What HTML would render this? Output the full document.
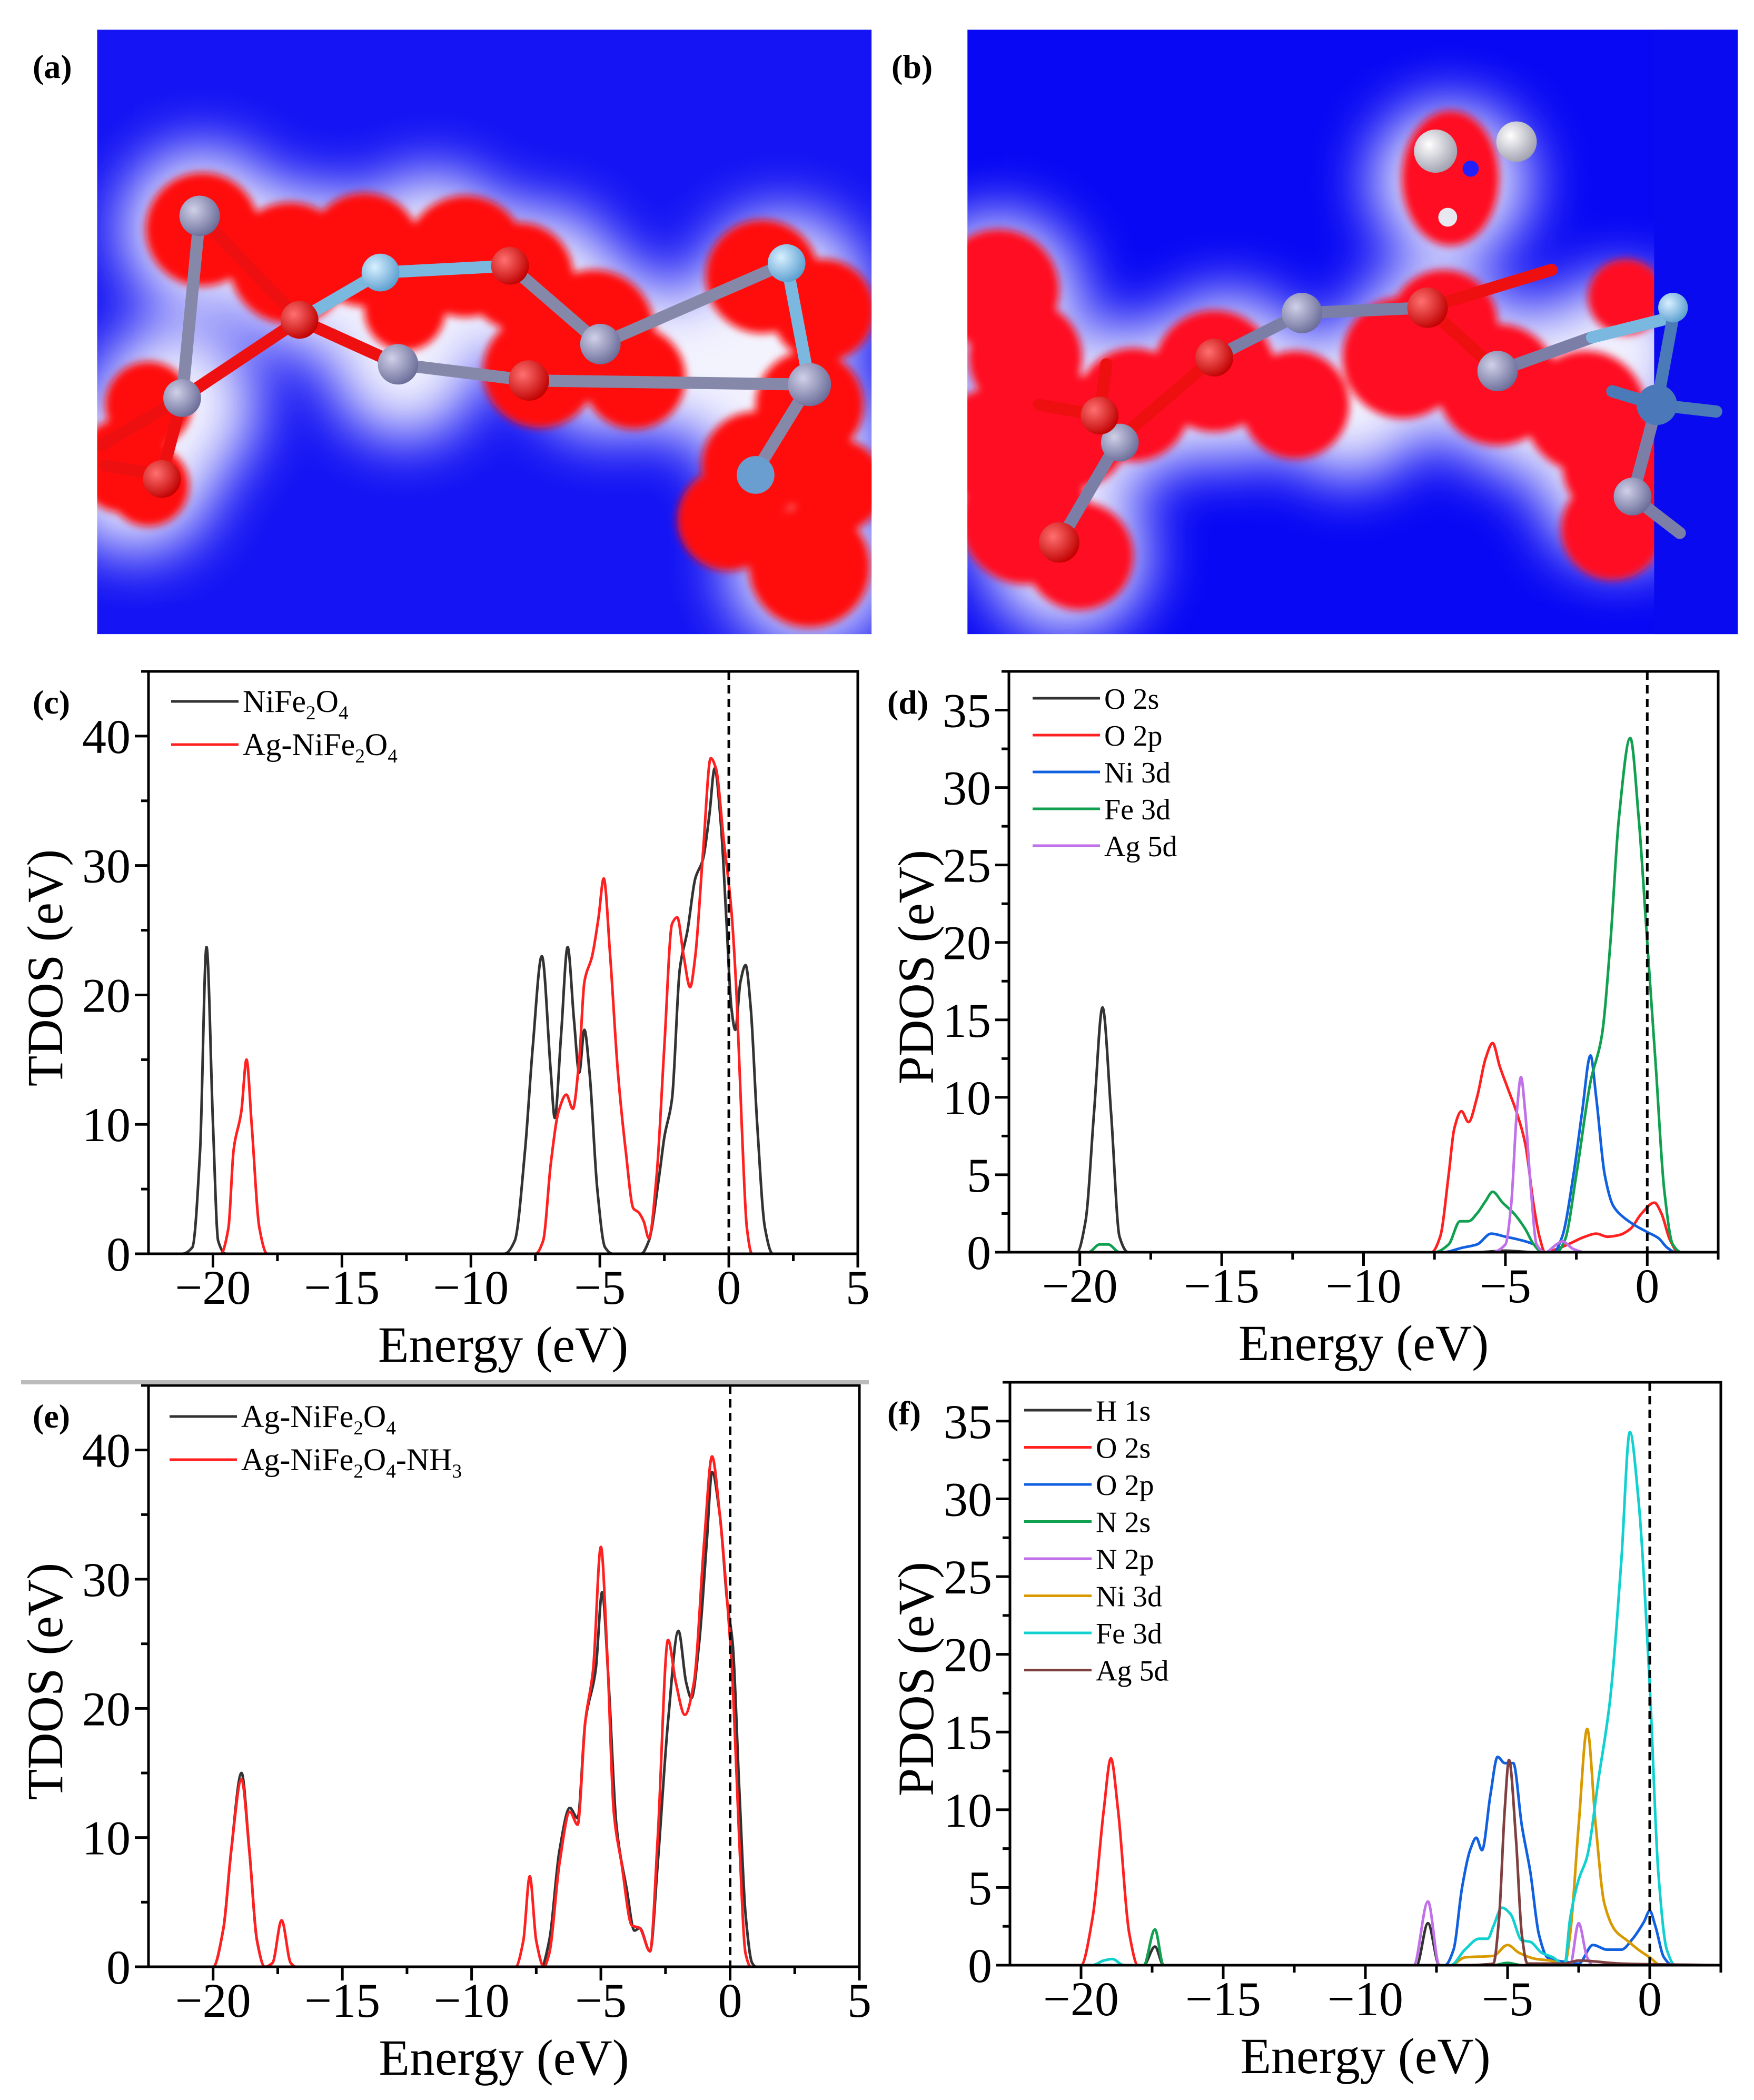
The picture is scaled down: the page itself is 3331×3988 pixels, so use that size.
<!DOCTYPE html>
<html><head><meta charset="utf-8"><style>
html,body{margin:0;padding:0;background:#fff}
#root{position:relative;width:3331px;height:3988px;overflow:hidden}
svg{position:absolute;left:0;top:0}
</style></head><body>
<div id="root">
<svg id="img" width="3331" height="3988" viewBox="0 0 1300 1556.4" preserveAspectRatio="none">
<defs>
<filter id="halo" x="-50%" y="-50%" width="200%" height="200%"><feGaussianBlur stdDeviation="22"/></filter>
<filter id="soft" x="-50%" y="-50%" width="200%" height="200%"><feGaussianBlur stdDeviation="3"/></filter>
<clipPath id="ca"><rect x="72" y="22" width="574" height="448"/></clipPath>
<clipPath id="cb"><rect x="717" y="22" width="571" height="448"/></clipPath>
<radialGradient id="gg" cx="35%" cy="35%" r="70%"><stop offset="0" stop-color="#d0d0e8"/><stop offset="1" stop-color="#6a6c98"/></radialGradient>
<radialGradient id="gr" cx="35%" cy="35%" r="70%"><stop offset="0" stop-color="#ff7070"/><stop offset="1" stop-color="#c00000"/></radialGradient>
<radialGradient id="gl" cx="35%" cy="35%" r="70%"><stop offset="0" stop-color="#d8f0ff"/><stop offset="1" stop-color="#5a9ed0"/></radialGradient>
<radialGradient id="gw" cx="35%" cy="35%" r="70%"><stop offset="0" stop-color="#ffffff"/><stop offset="1" stop-color="#a0a0b0"/></radialGradient>
</defs>
<g id="panel-a" clip-path="url(#ca)">
<rect x="72" y="22" width="574" height="448" fill="#1414f4"/>
<g fill="#ffffff" filter="url(#halo)" opacity="0.95">
<circle cx="150" cy="170" r="60"/><circle cx="230" cy="200" r="60"/><circle cx="320" cy="190" r="62"/><circle cx="400" cy="215" r="60"/><circle cx="450" cy="260" r="62"/><circle cx="300" cy="270" r="55"/><circle cx="130" cy="300" r="60"/><circle cx="100" cy="350" r="60"/><circle cx="580" cy="220" r="62"/><circle cx="590" cy="330" r="62"/><circle cx="600" cy="420" r="60"/><circle cx="520" cy="270" r="55"/>
</g>
<g fill="#ff1010" filter="url(#soft)">
<circle cx="150" cy="170" r="42"/><circle cx="215" cy="195" r="45"/><circle cx="270" cy="185" r="42"/><circle cx="345" cy="190" r="45"/><circle cx="385" cy="205" r="40"/><circle cx="440" cy="245" r="45"/><circle cx="400" cy="275" r="42"/><circle cx="470" cy="280" r="38"/><circle cx="300" cy="230" r="30"/><circle cx="110" cy="300" r="32"/><circle cx="92" cy="345" r="35"/><circle cx="110" cy="360" r="30"/><circle cx="565" cy="205" r="42"/><circle cx="610" cy="230" r="38"/><circle cx="600" cy="300" r="40"/><circle cx="560" cy="345" r="40"/><circle cx="540" cy="385" r="38"/><circle cx="600" cy="420" r="45"/><circle cx="620" cy="360" r="35"/>
</g>
<g stroke-linecap="round">
<g stroke="#8688aa" stroke-width="9">
<line x1="148" y1="160" x2="135" y2="295"/><line x1="445" y1="255" x2="583" y2="195"/><line x1="392" y1="282" x2="600" y2="285"/><line x1="600" y1="285" x2="560" y2="350"/><line x1="295" y1="270" x2="392" y2="282"/><line x1="378" y1="197" x2="445" y2="255"/>
</g>
<g stroke="#ee1010" stroke-width="9">
<line x1="148" y1="160" x2="222" y2="237"/><line x1="222" y1="237" x2="135" y2="295"/><line x1="222" y1="237" x2="295" y2="270"/><line x1="135" y1="295" x2="120" y2="352"/><line x1="135" y1="295" x2="75" y2="330"/><line x1="120" y1="352" x2="78" y2="345"/>
</g>
<g stroke="#7ab8e0" stroke-width="9">
<line x1="222" y1="237" x2="282" y2="202"/><line x1="282" y1="202" x2="378" y2="197"/><line x1="583" y1="195" x2="600" y2="285"/>
</g>
</g>
<circle cx="148" cy="160" r="15" fill="url(#gg)"/><circle cx="295" cy="270" r="15" fill="url(#gg)"/><circle cx="445" cy="255" r="15" fill="url(#gg)"/><circle cx="135" cy="295" r="14" fill="url(#gg)"/><circle cx="600" cy="285" r="16" fill="url(#gg)"/>
<circle cx="222" cy="237" r="14" fill="url(#gr)"/><circle cx="378" cy="197" r="14" fill="url(#gr)"/><circle cx="392" cy="282" r="15" fill="url(#gr)"/><circle cx="120" cy="355" r="14" fill="url(#gr)"/>
<circle cx="282" cy="202" r="14" fill="url(#gl)"/><circle cx="583" cy="195" r="14" fill="url(#gl)"/><circle cx="560" cy="352" r="14" fill="#6a9ed0"/>
</g>
<g id="panel-b" clip-path="url(#cb)">
<rect x="717" y="22" width="571" height="448" fill="#0808f4"/>
<g fill="#ffffff" filter="url(#halo)" opacity="0.95">
<circle cx="740" cy="220" r="60"/><circle cx="745" cy="340" r="62"/><circle cx="790" cy="410" r="60"/><circle cx="830" cy="300" r="58"/><circle cx="910" cy="280" r="62"/><circle cx="1000" cy="300" r="55"/><circle cx="1060" cy="260" r="62"/><circle cx="1130" cy="290" r="62"/><circle cx="1200" cy="260" r="55"/><circle cx="1200" cy="360" r="58"/><circle cx="1075" cy="135" r="58"/>
</g>
<g fill="#ff0a20" filter="url(#soft)">
<circle cx="740" cy="215" r="45"/><circle cx="760" cy="265" r="42"/><circle cx="735" cy="330" r="42"/><circle cx="760" cy="385" r="48"/><circle cx="800" cy="412" r="40"/><circle cx="795" cy="320" r="42"/><circle cx="840" cy="300" r="42"/><circle cx="900" cy="275" r="45"/><circle cx="960" cy="300" r="40"/><circle cx="1040" cy="265" r="45"/><circle cx="1070" cy="240" r="40"/><circle cx="1110" cy="285" r="45"/><circle cx="1175" cy="305" r="45"/><circle cx="1205" cy="220" r="28"/><circle cx="1200" cy="345" r="42"/><circle cx="1195" cy="392" r="38"/><ellipse cx="1075" cy="132" rx="36" ry="50"/>
</g>
<rect x="1226" y="22" width="62" height="448" fill="#0a0af0"/>
<g stroke-linecap="round">
<g stroke="#7b7fa8" stroke-width="9">
<line x1="785" y1="402" x2="830" y2="325"/><line x1="965" y1="232" x2="1058" y2="228"/><line x1="1110" y1="275" x2="1180" y2="250"/><line x1="1228" y1="300" x2="1210" y2="368"/><line x1="1210" y1="368" x2="1245" y2="395"/><line x1="900" y1="265" x2="965" y2="232"/>
</g>
<g stroke="#ee1010" stroke-width="9">
<line x1="830" y1="325" x2="900" y2="265"/><line x1="1058" y1="228" x2="1110" y2="275"/><line x1="1058" y1="228" x2="1150" y2="200"/><line x1="815" y1="308" x2="770" y2="300"/><line x1="815" y1="308" x2="820" y2="270"/>
</g>
<g stroke="#7ab8e0" stroke-width="9"><line x1="1180" y1="250" x2="1240" y2="235"/></g>
<g stroke="#4a7ab8" stroke-width="9"><line x1="1240" y1="235" x2="1228" y2="300"/><line x1="1228" y1="300" x2="1272" y2="305"/><line x1="1228" y1="300" x2="1195" y2="290"/></g>
</g>
<circle cx="965" cy="232" r="15" fill="url(#gg)"/><circle cx="1110" cy="275" r="15" fill="url(#gg)"/><circle cx="830" cy="328" r="14" fill="url(#gg)"/><circle cx="1210" cy="368" r="14" fill="url(#gg)"/><circle cx="1228" cy="300" r="15" fill="#4a78b8"/><circle cx="1240" cy="228" r="11" fill="url(#gl)"/>
<circle cx="815" cy="308" r="14" fill="url(#gr)"/><circle cx="900" cy="265" r="14" fill="url(#gr)"/><circle cx="1058" cy="228" r="15" fill="url(#gr)"/><circle cx="785" cy="402" r="15" fill="url(#gr)"/>
<circle cx="1090" cy="125" r="6" fill="#2020ff"/><circle cx="1064" cy="112" r="16" fill="url(#gw)"/><circle cx="1124" cy="105" r="15" fill="url(#gw)"/><circle cx="1073" cy="161" r="7" fill="#e8e8f0"/>
</g>
</svg>
<svg id="charts" width="3331" height="3988" viewBox="0 0 3331 3988" font-family="'Liberation Serif', serif"></svg>
</div>
<script>
// ---- Panel (c) data: TDOS ----
const c_NiFe2O4 = [[-22,0],[-21.2,0],[-20.8,0.5],[-20.5,8],[-20.25,23.7],[-20.0,10],[-19.8,1],[-19.5,0],[-8.7,0],[-8.3,1],[-7.9,8],[-7.6,16],[-7.25,23],[-6.9,14],[-6.75,10.5],[-6.5,17],[-6.25,23.7],[-6.0,18],[-5.8,14],[-5.6,17.3],[-5.4,14],[-5.1,5],[-4.8,0.5],[-4.5,0],[-3.4,0],[-3.1,1],[-2.7,6],[-2.5,9],[-2.2,12],[-1.9,22],[-1.6,25],[-1.3,29],[-1.0,30.5],[-0.75,34],[-0.55,37.5],[-0.3,33],[-0.1,26],[0.1,19],[0.25,17.3],[0.45,21],[0.65,22.3],[0.85,19],[1.1,10],[1.4,2],[1.7,0],[3.3,0]];
const c_AgNiFe2O4 = [[-21.5,0],[-19.7,0],[-19.4,2],[-19.2,8],[-18.9,11],[-18.7,15],[-18.5,10],[-18.2,2],[-17.9,0],[-7.5,0],[-7.2,1],[-6.9,7],[-6.6,11],[-6.3,12.3],[-6.05,11.2],[-5.8,15],[-5.6,21],[-5.3,23],[-5.05,26],[-4.85,29],[-4.6,23],[-4.3,14],[-4.0,8],[-3.7,3.5],[-3.5,3.2],[-3.3,2.5],[-3.1,1.2],[-2.8,6],[-2.5,16],[-2.2,25.5],[-2.0,26],[-1.75,23],[-1.5,20.6],[-1.3,23],[-1.0,31],[-0.7,38.3],[-0.5,37.5],[-0.2,32],[0.1,26.5],[0.3,20],[0.5,10],[0.7,2],[0.9,0],[2.5,0]];
// ---- Panel (d) data: PDOS ----
const d_O2s = [[-21.5,0],[-20.1,0],[-19.8,2],[-19.5,9],[-19.2,15.8],[-18.9,9],[-18.6,1],[-18.3,0],[-6,0],[-5,0.1],[-4,0],[2.5,0]];
const d_O2p = [[-21.5,0],[-7.6,0],[-7.3,1],[-7.0,5],[-6.8,8],[-6.55,9.1],[-6.3,8.4],[-6.0,10],[-5.7,12.5],[-5.45,13.5],[-5.2,12],[-4.9,10.5],[-4.6,9],[-4.3,7],[-4.0,3],[-3.8,1],[-3.6,0],[-3.2,0.2],[-2.8,0.5],[-2.2,1],[-1.8,1.2],[-1.4,1],[-1.0,1.1],[-0.6,1.5],[-0.2,2.5],[0.25,3.2],[0.5,2.5],[0.8,0.8],[1.1,0],[2.5,0]];
const d_Ni3d = [[-21.5,0],[-7.2,0],[-6.5,0.3],[-6.0,0.5],[-5.5,1.2],[-5.0,1],[-4.5,0.8],[-4.0,0.5],[-3.7,0],[-3.3,0],[-3.0,1],[-2.6,5],[-2.3,9],[-2.0,12.7],[-1.8,10],[-1.5,5],[-1.2,3],[-0.8,2.2],[-0.4,1.7],[0,1.3],[0.4,0.9],[0.7,0.3],[1.0,0],[2.5,0]];
const d_Fe3d = [[-21.5,0],[-19.7,0],[-19.3,0.5],[-19.0,0.5],[-18.6,0],[-7.5,0],[-7.0,0.5],[-6.6,2],[-6.3,2],[-6.0,2.5],[-5.7,3.3],[-5.45,3.9],[-5.1,3.2],[-4.7,2.5],[-4.3,1.5],[-4.0,0.5],[-3.7,0],[-3.2,0],[-2.9,0.8],[-2.5,5],[-2.0,11],[-1.6,14],[-1.3,20],[-1.0,28],[-0.6,33.2],[-0.3,28],[0,20],[0.3,12],[0.6,4],[0.9,0.5],[1.2,0],[2.5,0]];
const d_Ag5d = [[-21.5,0],[-5.5,0],[-5.0,0.5],[-4.8,3],[-4.6,9],[-4.45,11.3],[-4.3,9],[-4.1,4],[-3.9,0.5],[-3.6,0],[-3.2,0.5],[-3.0,0.7],[-2.6,0.2],[-2.2,0],[2.5,0]];
// ---- Panel (e) data: TDOS ----
const e_AgNiFe2O4 = [[-21.5,0],[-20,0],[-19.6,3],[-19.3,9],[-18.9,15],[-18.6,9],[-18.3,2],[-18.0,0],[-7.3,0],[-7.0,2],[-6.6,9],[-6.2,12.3],[-5.9,11.5],[-5.6,19],[-5.2,23],[-4.95,29],[-4.7,22],[-4.4,11],[-4.0,6],[-3.7,2.8],[-3.5,3],[-3.1,1.2],[-2.8,8],[-2.4,19],[-2.0,26],[-1.7,22],[-1.5,20.8],[-1.2,25],[-0.9,33],[-0.7,38.3],[-0.4,35],[-0.1,28],[0.1,25],[0.35,14],[0.6,4],[0.85,0.3],[1.0,0],[2.5,0]];
const e_AgNiFe2O4NH3 = [[-21.5,0],[-20,0],[-19.6,3],[-19.3,9],[-18.9,14.5],[-18.6,9],[-18.3,2],[-18.0,0],[-17.7,0.3],[-17.35,3.6],[-17.0,0.3],[-16.8,0],[-8.3,0],[-8.0,2],[-7.75,7],[-7.5,2],[-7.2,0],[-7.0,1],[-6.6,8],[-6.2,12],[-5.9,11],[-5.6,19],[-5.3,23],[-5.0,32.5],[-4.75,24],[-4.5,12],[-4.2,8],[-3.8,3.2],[-3.5,3],[-3.1,1.2],[-2.8,10],[-2.4,25.3],[-2.1,22],[-1.75,19.5],[-1.4,22],[-1.0,33],[-0.7,39.5],[-0.4,35],[-0.1,28],[0.1,22],[0.35,10],[0.6,1],[0.8,0],[2.5,0]];
// ---- Panel (f) data: PDOS ----
const f_H1s = [[-22.5,0],[-17.8,0],[-17.4,1.2],[-17.1,0],[-8.2,0],[-7.8,2.7],[-7.4,0],[2.5,0]];
const f_O2s = [[-21.5,0],[-20,0],[-19.6,3],[-19.2,10],[-18.95,13.3],[-18.7,10],[-18.3,2],[-18.0,0],[2.5,0]];
const f_O2p = [[-21.5,0],[-7.2,0],[-6.9,1],[-6.6,5],[-6.3,7.5],[-6.1,8.2],[-5.9,7.4],[-5.6,11],[-5.35,13.4],[-5.1,13],[-4.8,13],[-4.5,9],[-4.2,6],[-3.9,2],[-3.6,0.5],[-3.3,0.3],[-2.9,0.2],[-2.5,0.1],[-2.0,1.3],[-1.5,1.0],[-1.0,1],[-0.6,1.7],[-0.2,2.8],[0,3.5],[0.2,2.5],[0.5,0.5],[0.8,0],[2.5,0]];
const f_N2s = [[-21.5,0],[-17.8,0],[-17.4,2.3],[-17.1,0],[-5.5,0],[-5,0.15],[-4.5,0],[2.5,0]];
const f_N2p = [[-21.5,0],[-8.3,0],[-7.8,4.1],[-7.4,0],[-2.8,0],[-2.5,2.7],[-2.2,0.5],[-2.0,0],[2.5,0]];
const f_Ni3d = [[-21.5,0],[-7.0,0],[-6.5,0.5],[-5.5,0.6],[-5.0,1.3],[-4.6,0.8],[-4.0,0.4],[-3.5,0.3],[-3.0,0],[-2.8,2],[-2.5,9],[-2.2,15.2],[-1.9,9],[-1.6,4],[-1.2,2.2],[-0.8,1.6],[-0.4,1],[0,0.5],[0.4,0],[2.5,0]];
const f_Fe3d = [[-21.5,0],[-19.6,0],[-19.2,0.3],[-18.9,0.4],[-18.5,0],[-7.0,0],[-6.5,1],[-6.0,1.7],[-5.7,1.7],[-5.5,2.5],[-5.2,3.7],[-4.9,3.3],[-4.5,1.6],[-4.2,1.5],[-3.8,0.8],[-3.4,0.5],[-3.0,0],[-2.8,3],[-2.5,5.5],[-2.2,7],[-1.8,12],[-1.4,17],[-1.0,26],[-0.7,34.3],[-0.4,30],[0,18],[0.3,6],[0.6,1],[0.9,0],[2.5,0]];
const f_Ag5d = [[-21.5,0],[-6.5,0],[-5.5,0.1],[-5.3,3],[-5.1,10],[-4.95,13.2],[-4.7,8],[-4.5,2],[-4.3,0.1],[-3.0,0.1],[-2.5,0.3],[-1.0,0.1],[2.5,0]];
// ---- tick labels ----
const xTicksWide = [-20,-15,-10,-5,0,5];
const xTicksNarrow = [-20,-15,-10,-5,0];
const yTicksTDOS = [0,10,20,30,40];
const yTicksPDOS = [0,5,10,15,20,25,30,35];

const NS='http://www.w3.org/2000/svg';
const svg=document.getElementById('charts');
function mk(tag,attrs,parent){const e=document.createElementNS(NS,tag);for(const k in attrs)e.setAttribute(k,attrs[k]);(parent||svg).appendChild(e);return e;}
function fmt(v){return v<0?'\u2212'+Math.abs(v):String(v);}
// monotone cubic (Fritsch-Carlson) path, no overshoot
function pathFrom(pts){
  const n=pts.length;
  const dx=[],m=[],t=new Array(n);
  for(let i=0;i<n-1;i++){dx[i]=pts[i+1][0]-pts[i][0];m[i]=(pts[i+1][1]-pts[i][1])/dx[i];}
  t[0]=m[0];t[n-1]=m[n-2];
  for(let i=1;i<n-1;i++){
    if(m[i-1]*m[i]<=0) t[i]=0;
    else{const w1=2*dx[i]+dx[i-1],w2=dx[i]+2*dx[i-1];t[i]=(w1+w2)/(w1/m[i-1]+w2/m[i]);}
  }
  let d='M'+pts[0][0].toFixed(1)+','+pts[0][1].toFixed(1);
  for(let i=0;i<n-1;i++){
    const h=dx[i]/3;
    d+=' C'+(pts[i][0]+h).toFixed(1)+','+(pts[i][1]+t[i]*h).toFixed(1)+' '+(pts[i+1][0]-h).toFixed(1)+','+(pts[i+1][1]-t[i+1]*h).toFixed(1)+' '+pts[i+1][0].toFixed(1)+','+pts[i+1][1].toFixed(1);
  }
  return d;
}
function panel(cfg){
  const g=mk('g',{});
  
  
  const {L,R,T,B,x0,x1,y0,y1}=cfg;
  const X=v=>L+(v-x0)/(x1-x0)*(R-L);
  const Y=v=>B-(v-y0)/(y1-y0)*(B-T);
  cfg.series.forEach(s=>{
    const p=mk('path',{d:pathFrom(s.data.map(q=>[X(q[0]),Y(q[1])])),fill:'none',stroke:s.color,'stroke-width':5,'stroke-linejoin':'round'},g);
    
    
  });
  const fl=mk('line',{x1:X(0),x2:X(0),y1:T,y2:B,stroke:'#000','stroke-width':5,'stroke-dasharray':'16,10'},g);
  
  
  const fr=mk('rect',{x:L,y:T,width:R-L,height:B-T,fill:'none',stroke:'#000','stroke-width':5},g);
  
  
  for(let v=-22.5;v<=x1+1e-6;v+=2.5){
    if(v<x0-1e-6) continue;
    const major=Math.abs(v%5)<1e-6;
    if(Math.abs(v-x0)<1e-6&&!major) continue;
    mk('line',{x1:X(v),x2:X(v),y1:B,y2:B+(major?26:14),stroke:'#000','stroke-width':5},g);
  }
  cfg.xticks.forEach(v=>{
    const t=mk('text',{x:X(v),y:B+95,'font-size':92,'text-anchor':'middle'},g);
    t.textContent=fmt(v);
    
    
  });
  for(let v=0;v<=y1+1e-6;v+=cfg.yminor){
    const major=Math.abs((v/cfg.ymajor)-Math.round(v/cfg.ymajor))<1e-6;
    mk('line',{x1:L,x2:L-(major?26:14),y1:Y(v),y2:Y(v),stroke:'#000','stroke-width':5},g);
  }
  cfg.yticks.forEach(v=>{
    const t=mk('text',{x:L-34,y:Y(v)+32,'font-size':92,'text-anchor':'end'},g);
    t.textContent=fmt(v);
    
    
  });
  const xt=mk('text',{x:(L+R)/2,y:B+205,'font-size':96,'text-anchor':'middle'},g);
  xt.textContent='Energy (eV)';
  
  
  const cy=(T+B)/2+10, cx=cfg.ytx;
  const yt=mk('text',{x:cx,y:cy,'font-size':96,'text-anchor':'middle',transform:'rotate(-90 '+cx+' '+cy+')'},g);
  yt.textContent=cfg.ytitle;
  
  
  const pl=mk('text',{x:cfg.lx,y:T+80,'font-size':64,'font-weight':'bold'},g);
  pl.textContent=cfg.label;
  
  
  cfg.series.forEach((s,i)=>{
    const yy=cfg.legY+i*cfg.legDy;
    const lg=mk('g',{},g);
    
    
    mk('line',{x1:cfg.legX,x2:cfg.legX+128,y1:yy,y2:yy,stroke:s.color,'stroke-width':5},lg);
    const t=mk('text',{x:cfg.legX+136,y:yy+20,'font-size':cfg.legFs},lg);
    let prevSub=false;
    s.label.forEach(part=>{
      const ts=mk('tspan',{},t);
      if(part[1]){ts.setAttribute('font-size',cfg.legFs*0.62);ts.setAttribute('dy',14);prevSub=true;}
      else if(prevSub){ts.setAttribute('dy',-14);prevSub=false;}
      ts.textContent=part[0];
    });
  });
}
const lbNi=[['NiFe',0],['2',1],['O',0],['4',1]];
const lbAg=[['Ag-NiFe',0],['2',1],['O',0],['4',1]];
const lbAgN=[['Ag-NiFe',0],['2',1],['O',0],['4',1],['-NH',0],['3',1]];
panel({name:'panel-c-tdos',label:'(c)',lx:62,L:282,R:1629,T:1275,B:2381,x0:-22.5,x1:5,y0:0,y1:45,xticks:xTicksWide,yticks:yTicksTDOS,ymajor:10,yminor:5,ytitle:'TDOS (eV)',ytx:118,legX:325,legY:1332,legDy:82,legFs:60,
  series:[{id:'nife2o4',color:'#333333',data:c_NiFe2O4,label:lbNi},{id:'ag-nife2o4',color:'#ff2020',data:c_AgNiFe2O4,label:lbAg}]});
panel({name:'panel-d-pdos',label:'(d)',lx:1685,L:1916,R:3263,T:1275,B:2378,x0:-22.5,x1:2.5,y0:0,y1:37.5,xticks:xTicksNarrow,yticks:yTicksPDOS,ymajor:5,yminor:2.5,ytitle:'PDOS (eV)',ytx:1772,legX:1961,legY:1326,legDy:70,legFs:56,
  series:[{id:'o-2s',color:'#333333',data:d_O2s,label:[['O 2s',0]]},{id:'o-2p',color:'#ff2020',data:d_O2p,label:[['O 2p',0]]},{id:'ni-3d',color:'#1060e0',data:d_Ni3d,label:[['Ni 3d',0]]},{id:'fe-3d',color:'#10a050',data:d_Fe3d,label:[['Fe 3d',0]]},{id:'ag-5d',color:'#c070e8',data:d_Ag5d,label:[['Ag 5d',0]]}]});
panel({name:'panel-e-tdos',label:'(e)',lx:62,L:282,R:1632,T:2631,B:3735,x0:-22.5,x1:5,y0:0,y1:45,xticks:xTicksWide,yticks:yTicksTDOS,ymajor:10,yminor:5,ytitle:'TDOS (eV)',ytx:118,legX:322,legY:2690,legDy:82,legFs:60,
  series:[{id:'ag-nife2o4',color:'#333333',data:e_AgNiFe2O4,label:lbAg},{id:'ag-nife2o4-nh3',color:'#ff2020',data:e_AgNiFe2O4NH3,label:lbAgN}]});
panel({name:'panel-f-pdos',label:'(f)',lx:1685,L:1918,R:3268,T:2625,B:3732,x0:-22.5,x1:2.5,y0:0,y1:37.5,xticks:xTicksNarrow,yticks:yTicksPDOS,ymajor:5,yminor:2.5,ytitle:'PDOS (eV)',ytx:1772,legX:1945,legY:2678,legDy:70.5,legFs:56,
  series:[{id:'h-1s',color:'#333333',data:f_H1s,label:[['H 1s',0]]},{id:'o-2s',color:'#ff2020',data:f_O2s,label:[['O 2s',0]]},{id:'o-2p',color:'#1060e0',data:f_O2p,label:[['O 2p',0]]},{id:'n-2s',color:'#10a050',data:f_N2s,label:[['N 2s',0]]},{id:'n-2p',color:'#c070e8',data:f_N2p,label:[['N 2p',0]]},{id:'ni-3d',color:'#d89a00',data:f_Ni3d,label:[['Ni 3d',0]]},{id:'fe-3d',color:'#10d0d0',data:f_Fe3d,label:[['Fe 3d',0]]},{id:'ag-5d',color:'#804040',data:f_Ag5d,label:[['Ag 5d',0]]}]});
const sep=mk('line',{x1:40,x2:1650,y1:2625,y2:2625,stroke:'#bbbbbb','stroke-width':8});


const la=mk('text',{x:62,y:148,'font-size':64,'font-weight':'bold'});
la.textContent='(a)';


const lb=mk('text',{x:1693,y:148,'font-size':64,'font-weight':'bold'});
lb.textContent='(b)';


</script>
</body></html>
